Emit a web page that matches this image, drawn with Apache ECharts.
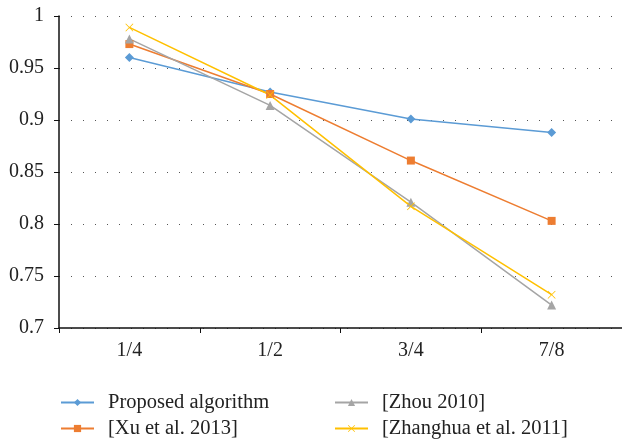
<!DOCTYPE html>
<html>
<head>
<meta charset="utf-8">
<script src="https://cdn.jsdelivr.net/npm/echarts@6/dist/echarts.min.js"></script>
<style>
  html, body { margin: 0; padding: 0; background: #fff; }
  #chart { width: 622px; height: 441px; }
</style>
</head>
<body>
<div id="chart"></div>
<script>
// 横轴类别
var categories = ['1/4', '1/2', '3/4', '7/8'];
var proposed = [0.960, 0.927, 0.901, 0.888];
var xu2013 = [0.973, 0.925, 0.861, 0.803];
var zhou2010 = [0.978, 0.914, 0.821, 0.722];
var zhanghua2011 = [0.989, 0.924, 0.817, 0.732];

var fontFamily = 'Liberation Serif';
var crossPath = 'path://M0,0.7L0.7,0L5,4.3L9.3,0L10,0.7L5.7,5L10,9.3L9.3,10L5,5.7L0.7,10L0,9.3L4.3,5Z';

function makeSeries(name, data, color, symbol, size) {
  return {
    name: name,
    type: 'line',
    data: data,
    symbol: symbol,
    symbolSize: size,
    showSymbol: true,
    lineStyle: { color: color, width: 1.5 },
    itemStyle: { color: color },
    emphasis: { disabled: true }
  };
}

// 每个图例单独放
function makeLegend(name, left, top) {
  return {
    left: left, top: top,
    itemWidth: 33, itemHeight: 9,
    textStyle: { fontFamily: fontFamily, fontSize: 20.5, color: '#222', padding: [0, 0, 0, 9] },
    data: [name]
  };
}

var chart = echarts.init(document.getElementById('chart'));
chart.setOption({
  animation: false,
  textStyle: { fontFamily: fontFamily },
  grid: { left: 59, right: 0, top: 16, bottom: 113 },
  legend: [
    makeLegend('Proposed algorithm', 55, 387),
    makeLegend('[Xu et al. 2013]', 55, 413),
    makeLegend('[Zhou 2010]', 329, 387),
    makeLegend('[Zhanghua et al. 2011]', 329, 413)
  ],
  xAxis: {
    type: 'category',
    data: categories,
    boundaryGap: true,
    axisLine: { lineStyle: { color: '#111', width: 1.5 } },
    axisTick: { show: true, length: 5, lineStyle: { color: '#111' } },
    axisLabel: { fontSize: 20, color: '#222', margin: 13, fontFamily: fontFamily },
    splitLine: { show: false }
  },
  yAxis: {
    type: 'value',
    min: 0.7,
    max: 1,
    interval: 0.05,
    axisLine: { show: true, lineStyle: { color: '#111', width: 1.5 } },
    axisTick: { show: true, length: 5, lineStyle: { color: '#111' } },
    axisLabel: { fontSize: 20, color: '#222', margin: 15, fontFamily: fontFamily },
    splitLine: { show: true, lineStyle: { color: '#555', width: 1, type: [1, 11] } }
  },
  series: [
    makeSeries('Proposed algorithm', proposed, '#5B9BD5', 'diamond', 9),
    makeSeries('[Xu et al. 2013]', xu2013, '#ED7D31', 'rect', 8),
    makeSeries('[Zhou 2010]', zhou2010, '#A5A5A5', 'triangle', 9),
    makeSeries('[Zhanghua et al. 2011]', zhanghua2011, '#FFC000', crossPath, 8)
  ]
});
</script>
</body>
</html>
